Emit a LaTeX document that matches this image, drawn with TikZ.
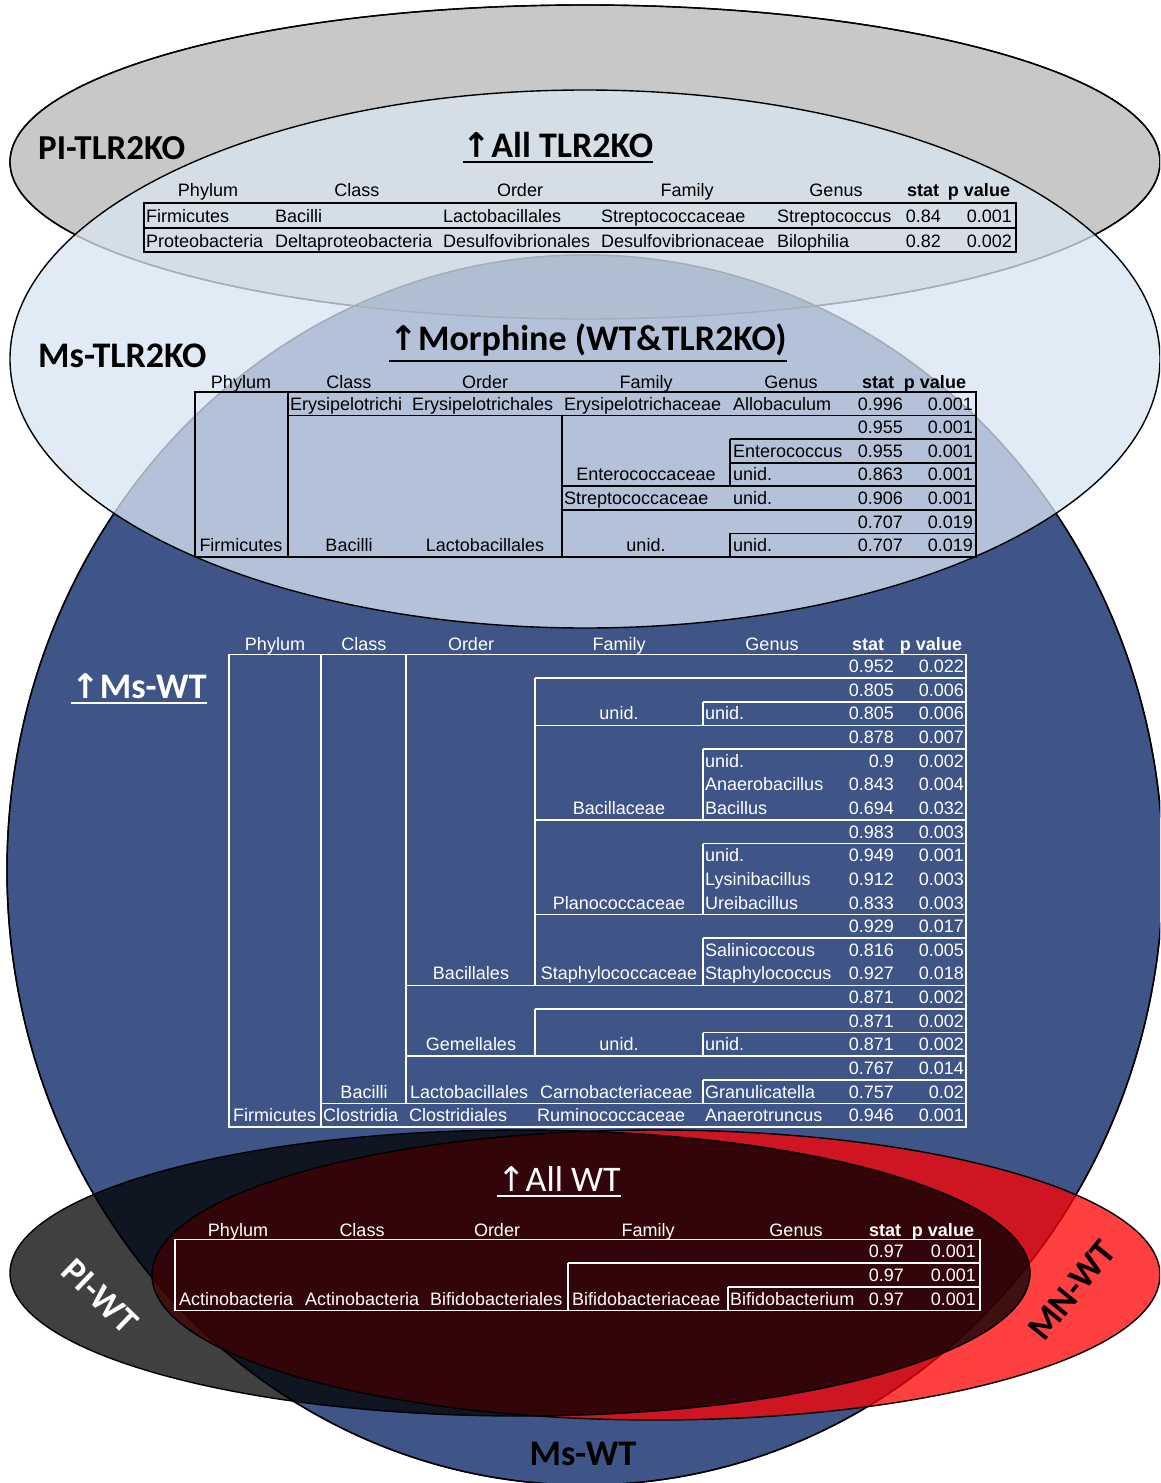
\documentclass[tikz,border=0pt]{standalone}
\usepackage{fontspec}
\setmainfont{Liberation Sans}
\newfontfamily\calib{Carlito}
\newfontfamily\arr{DejaVu Sans}
\definecolor{msblue}{RGB}{63,85,135}
\definecolor{msbluedk}{RGB}{50,68,108}
\definecolor{pigray}{RGB}{200,200,200}
\definecolor{kofill}{RGB}{216,229,242}
\newcounter{nn}
\newcommand\T[4]{\stepcounter{nn}\node[#1] (n\arabic{nn}) at (#2,{#3}) {#4};}
\newcommand\uparr{{\arr\fontsize{34}{34}\selectfont ↑}}
\begin{document}
\begin{tikzpicture}[x=1pt,y=-1pt,
  declare function={mo(\k)=392+(\k-0.5)*23.57+6.4; ml(\k)=392+\k*23.57;
     mw(\k)=654.5+(\k-0.5)*23.63+6.4; wr(\k)=654.5+\k*23.63;
     aw(\k)=1239.5+(\k-0.5)*23.67+6.4; al(\k)=1239.5+\k*23.67;},
  tabt/.style={font=\fontsize{18}{20}\selectfont, inner sep=0pt},
  L/.style={tabt,anchor=base west}, R/.style={tabt,anchor=base east}, C/.style={tabt,anchor=base},
  HB/.style={C,font=\fontsize{18}{20}\selectfont\bfseries},
  bline/.style={line width=1.6pt,draw=black},
  wline/.style={line width=1.6pt,draw=white},
  ell/.style={draw=black,line width=1.4pt},
  ttl/.style={inner sep=0pt,font=\calib\bfseries\fontsize{36}{40}\selectfont}]
\fill[white] (0,0) rectangle (1160,1483);
\useasboundingbox (0,0) rectangle (1160,1483);
\clip (0,0) rectangle (1160,1483);
% ellipses
\path[ell,fill=pigray] (585,162) ellipse [x radius=575pt,y radius=157pt];
\path[ell,fill=msblue] (585,870) ellipse [x radius=578pt,y radius=615pt];
\begin{scope}
\clip (585,162) ellipse [x radius=575pt,y radius=157pt];
\fill[msbluedk] (585,870) ellipse [x radius=578pt,y radius=615pt];
\end{scope}
\draw[ell] (585,870) ellipse [x radius=578pt,y radius=615pt];
\draw[ell] (585,162) ellipse [x radius=575pt,y radius=157pt];
\path[ell,fill=kofill,fill opacity=0.76] (585,359) ellipse [x radius=575pt,y radius=269pt];
\path[ell,fill=red,fill opacity=0.75] (656,1275) ellipse [x radius=504pt,y radius=145pt];
\path[ell,fill=black,fill opacity=0.75] (520,1273) ellipse [x radius=510pt,y radius=143pt];
% labels
\node[ttl,anchor=base west,font=\calib\bfseries\fontsize{35}{40}\selectfont] (l1) at (38,159) {PI-TLR2KO};
\node[ttl,anchor=base west] (l2) at (38,367) {Ms-TLR2KO};
\node[ttl,text=white,rotate=-44] (l3) at (100,1296) {PI-WT};
\node[ttl,rotate=51] (l4) at (1072,1290) {MN-WT};
\node[ttl,anchor=base] (l5) at (583,1465) {Ms-WT};
% titles
\node[ttl,anchor=base] (t1) at (558,157) {\uparr All TLR2KO};
\draw[line width=2pt] ([yshift=-5pt]t1.base west) -- ([yshift=-5pt]t1.base east);
\node[ttl,anchor=base] (t2) at (588,350) {\uparr Morphine (WT\&TLR2KO)};
\draw[line width=2pt] ([yshift=-11pt]t2.base west) -- ([yshift=-11pt]t2.base east);
\node[ttl,anchor=base,text=white] (t3) at (139,698) {\uparr Ms-WT};
\draw[line width=2pt,white] ([yshift=-5pt]t3.base west) -- ([yshift=-5pt]t3.base east);
\node[ttl,anchor=base,text=white,font=\calib\fontsize{36}{40}\selectfont] (t4) at (559,1191) {\uparr All WT};
\draw[line width=2pt,white] ([yshift=-5pt]t4.base west) -- ([yshift=-5pt]t4.base east);
% ---- All TLR2KO table
\draw[bline] (144,203) rectangle (1016,252);
\draw[bline] (144,228) -- (1016,228);
\T{C}{208}{196.4}{Phylum}\T{C}{357}{196.4}{Class}\T{C}{520}{196.4}{Order}
\T{C}{687}{196.4}{Family}\T{C}{836}{196.4}{Genus}\T{HB}{923}{196.4}{stat}\T{HB}{979}{196.4}{p value}
\T{L}{146}{222.5}{Firmicutes}\T{L}{275}{222.5}{Bacilli}\T{L}{443}{222.5}{Lactobacillales}
\T{L}{601}{222.5}{Streptococcaceae}\T{L}{777}{222.5}{Streptococcus}\T{R}{941}{222.5}{0.84}\T{R}{1012}{222.5}{0.001}
\T{L}{146}{247.5}{Proteobacteria}\T{L}{275}{247.5}{Deltaproteobacteria}\T{L}{443}{247.5}{Desulfovibrionales}
\T{L}{601}{247.5}{Desulfovibrionaceae}\T{L}{777}{247.5}{Bilophilia}\T{R}{941}{247.5}{0.82}\T{R}{1012}{247.5}{0.002}
% ---- Morphine table
\draw[bline] (195,{ml(0)}) rectangle (976,{ml(7)});
\draw[bline] (288,{ml(0)}) -- (288,{ml(7)});
\draw[bline] (288,{ml(1)}) -- (976,{ml(1)});
\draw[bline] (562,{ml(1)}) -- (562,{ml(7)});
\draw[bline] (730,{ml(2)}) -- (976,{ml(2)});
\draw[bline] (730,{ml(3)}) -- (976,{ml(3)});
\draw[bline] (730,{ml(2)}) -- (730,{ml(4)});
\draw[bline] (562,{ml(4)}) -- (976,{ml(4)});
\draw[bline] (562,{ml(5)}) -- (976,{ml(5)});
\draw[bline] (730,{ml(6)}) -- (976,{ml(6)});
\draw[bline] (730,{ml(6)}) -- (730,{ml(7)});
\T{C}{241}{388.4}{Phylum}\T{C}{349}{388.4}{Class}\T{C}{485}{388.4}{Order}
\T{C}{646}{388.4}{Family}\T{C}{791}{388.4}{Genus}\T{HB}{878}{388.4}{stat}\T{HB}{935}{388.4}{p value}
\T{L}{290}{mo(1)}{Erysipelotrichi}\T{L}{412}{mo(1)}{Erysipelotrichales}\T{L}{564}{mo(1)}{Erysipelotrichaceae}
\T{L}{733}{mo(1)}{Allobaculum}\T{R}{903}{mo(1)}{0.996}\T{R}{973}{mo(1)}{0.001}
\T{R}{903}{mo(2)}{0.955}\T{R}{973}{mo(2)}{0.001}
\T{L}{733}{mo(3)}{Enterococcus}\T{R}{903}{mo(3)}{0.955}\T{R}{973}{mo(3)}{0.001}
\T{C}{646}{mo(4)}{Enterococcaceae}\T{L}{733}{mo(4)}{unid.}\T{R}{903}{mo(4)}{0.863}\T{R}{973}{mo(4)}{0.001}
\T{L}{564}{mo(5)}{Streptococcaceae}\T{L}{733}{mo(5)}{unid.}\T{R}{903}{mo(5)}{0.906}\T{R}{973}{mo(5)}{0.001}
\T{R}{903}{mo(6)}{0.707}\T{R}{973}{mo(6)}{0.019}
\T{C}{241}{mo(7)}{Firmicutes}\T{C}{349}{mo(7)}{Bacilli}\T{C}{485}{mo(7)}{Lactobacillales}
\T{C}{646}{mo(7)}{unid.}\T{L}{733}{mo(7)}{unid.}\T{R}{903}{mo(7)}{0.707}\T{R}{973}{mo(7)}{0.019}
% ---- Ms-WT table
\draw[wline] (229,{wr(0)}) rectangle (966,{wr(20)});
\draw[wline] (321,{wr(0)}) -- (321,{wr(20)});
\draw[wline] (406,{wr(0)}) -- (406,{wr(19)});
\draw[wline] (321,{wr(19)}) -- (966,{wr(19)});
\foreach \k in {14,17} {\draw[wline] (406,{wr(\k)}) -- (966,{wr(\k)});}
\foreach \k in {1,3,7,11,15} {\draw[wline] (535,{wr(\k)}) -- (966,{wr(\k)});}
\draw[wline] (535,{wr(1)}) -- (535,{wr(14)});
\draw[wline] (535,{wr(15)}) -- (535,{wr(17)});
\foreach \p/\q in {2/3,4/7,8/11,12/14,16/17,18/19} {\draw[wline] (703,{wr(\p)}) -- (966,{wr(\p)}); \draw[wline] (703,{wr(\p)}) -- (703,{wr(\q)});}
\begin{scope}[text=white]
\T{C}{275}{650.4}{Phylum}\T{C}{364}{650.4}{Class}\T{C}{471}{650.4}{Order}
\T{C}{619}{650.4}{Family}\T{C}{772}{650.4}{Genus}\T{HB}{868}{650.4}{stat}\T{HB}{931}{650.4}{p value}
\T{R}{894}{mw(1)}{0.952}\T{R}{964}{mw(1)}{0.022}
\T{R}{894}{mw(2)}{0.805}\T{R}{964}{mw(2)}{0.006}
\T{C}{619}{mw(3)}{unid.}\T{L}{705}{mw(3)}{unid.}\T{R}{894}{mw(3)}{0.805}\T{R}{964}{mw(3)}{0.006}
\T{R}{894}{mw(4)}{0.878}\T{R}{964}{mw(4)}{0.007}
\T{L}{705}{mw(5)}{unid.}\T{R}{894}{mw(5)}{0.9}\T{R}{964}{mw(5)}{0.002}
\T{L}{705}{mw(6)}{Anaerobacillus}\T{R}{894}{mw(6)}{0.843}\T{R}{964}{mw(6)}{0.004}
\T{C}{619}{mw(7)}{Bacillaceae}\T{L}{705}{mw(7)}{Bacillus}\T{R}{894}{mw(7)}{0.694}\T{R}{964}{mw(7)}{0.032}
\T{R}{894}{mw(8)}{0.983}\T{R}{964}{mw(8)}{0.003}
\T{L}{705}{mw(9)}{unid.}\T{R}{894}{mw(9)}{0.949}\T{R}{964}{mw(9)}{0.001}
\T{L}{705}{mw(10)}{Lysinibacillus}\T{R}{894}{mw(10)}{0.912}\T{R}{964}{mw(10)}{0.003}
\T{C}{619}{mw(11)}{Planococcaceae}\T{L}{705}{mw(11)}{Ureibacillus}\T{R}{894}{mw(11)}{0.833}\T{R}{964}{mw(11)}{0.003}
\T{R}{894}{mw(12)}{0.929}\T{R}{964}{mw(12)}{0.017}
\T{L}{705}{mw(13)}{Salinicoccous}\T{R}{894}{mw(13)}{0.816}\T{R}{964}{mw(13)}{0.005}
\T{C}{471}{mw(14)}{Bacillales}\T{C}{619}{mw(14)}{Staphylococcaceae}\T{L}{705}{mw(14)}{Staphylococcus}\T{R}{894}{mw(14)}{0.927}\T{R}{964}{mw(14)}{0.018}
\T{R}{894}{mw(15)}{0.871}\T{R}{964}{mw(15)}{0.002}
\T{R}{894}{mw(16)}{0.871}\T{R}{964}{mw(16)}{0.002}
\T{C}{471}{mw(17)}{Gemellales}\T{C}{619}{mw(17)}{unid.}\T{L}{705}{mw(17)}{unid.}\T{R}{894}{mw(17)}{0.871}\T{R}{964}{mw(17)}{0.002}
\T{R}{894}{mw(18)}{0.767}\T{R}{964}{mw(18)}{0.014}
\T{C}{364}{mw(19)}{Bacilli}\T{L}{410}{mw(19)}{Lactobacillales}\T{L}{540}{mw(19)}{Carnobacteriaceae}\T{L}{705}{mw(19)}{Granulicatella}\T{R}{894}{mw(19)}{0.757}\T{R}{964}{mw(19)}{0.02}
\T{L}{233}{mw(20)}{Firmicutes}\T{L}{323}{mw(20)}{Clostridia}\T{L}{409}{mw(20)}{Clostridiales}\T{L}{537}{mw(20)}{Ruminococcaceae}\T{L}{705}{mw(20)}{Anaerotruncus}\T{R}{894}{mw(20)}{0.946}\T{R}{964}{mw(20)}{0.001}
% ---- All WT table
\T{C}{238}{1236.4}{Phylum}\T{C}{362}{1236.4}{Class}\T{C}{497}{1236.4}{Order}
\T{C}{648}{1236.4}{Family}\T{C}{796}{1236.4}{Genus}\T{HB}{885}{1236.4}{stat}\T{HB}{943}{1236.4}{p value}
\T{R}{904}{aw(1)}{0.97}\T{R}{976}{aw(1)}{0.001}
\T{R}{904}{aw(2)}{0.97}\T{R}{976}{aw(2)}{0.001}
\T{L}{179}{aw(3)}{Actinobacteria}\T{L}{305}{aw(3)}{Actinobacteria}\T{L}{430}{aw(3)}{Bifidobacteriales}
\T{L}{572}{aw(3)}{Bifidobacteriaceae}\T{L}{730}{aw(3)}{Bifidobacterium}\T{R}{904}{aw(3)}{0.97}\T{R}{976}{aw(3)}{0.001}
\end{scope}
\draw[wline] (175,{al(0)}) rectangle (980,{al(3)});
\draw[wline] (568,{al(1)}) -- (980,{al(1)}) (568,{al(1)}) -- (568,{al(3)});
\draw[wline] (728,{al(2)}) -- (980,{al(2)}) (728,{al(2)}) -- (728,{al(3)});
\end{tikzpicture}
\end{document}
